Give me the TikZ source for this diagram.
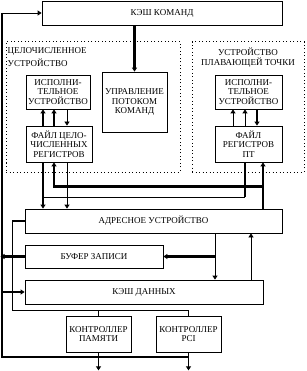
\documentclass[tikz,border=0pt]{standalone}
\usepackage{fontspec}
\setmainfont{Liberation Serif}
\usetikzlibrary{arrows.meta, positioning, calc}
\tikzset{
    box/.style = {draw, line width=0.8pt, rectangle, inner sep=1pt, text centered, align=center, font=\fontsize{9}{9.5}\selectfont},
    frame/.style = {draw, line width=1pt, dash pattern=on 1pt off 2.5pt, rectangle, inner sep=0pt},
    framelabel/.style = {inner sep=0pt, font=\fontsize{9}{10}\selectfont},
    wire/.style = {line width=0.8pt},
    bus/.style = {line width=2.4pt},
    midbus/.style = {line width=1.6pt},
    arrow/.style = {-{Triangle[length=4pt, width=5pt]}}
}

\begin{document}
\begin{tikzpicture}[x=1pt, y=-1pt]
    \useasboundingbox (0,0) rectangle (306,371);
    % dotted frames of the two units
    \node[frame, minimum width=174pt, minimum height=130pt] (intframe) at (93,107) {};
    \node[frame, minimum width=112pt, minimum height=130pt] (fpframe) at (248,107) {};
    \node[framelabel, align=left, anchor=north west, below right=6pt and 2pt of intframe.north west, font=\fontsize{9}{13}\selectfont] (intlbl) {ЦЕЛОЧИСЛЕННОЕ\\УСТРОЙСТВО};
    \node[framelabel, align=center, anchor=north, below=6pt of fpframe.north] (fplbl) {УСТРОЙСТВО\\ПЛАВАЮЩЕЙ ТОЧКИ};

    % blocks
    \node[box, minimum width=240pt, minimum height=24pt] (icache) at (162,13) {КЭШ КОМАНД};
    \node[box, minimum width=64pt, minimum height=34pt] (intexec) at (58,92) {ИСПОЛНИ-\\ТЕЛЬНОЕ\\УСТРОЙСТВО};
    \node[box, minimum width=65pt, minimum height=60pt] (flow) at (134.5,102) {УПРАВЛЕНИЕ\\ПОТОКОМ\\КОМАНД};
    \node[box, minimum width=67pt, minimum height=34pt] (fpexec) at (248.5,92) {ИСПОЛНИ-\\ТЕЛЬНОЕ\\УСТРОЙСТВО};
    \node[box, minimum width=66pt, minimum height=36pt] (intreg) at (59,144) {ФАЙЛ ЦЕЛО-\\ЧИСЛЕННЫХ\\РЕГИСТРОВ};
    \node[box, minimum width=67pt, minimum height=36pt] (fpreg) at (248.5,144) {ФАЙЛ\\РЕГИСТРОВ\\ПТ};
    \node[box, minimum width=257pt, minimum height=24pt] (agu) at (153.5,221) {АДРЕСНОЕ УСТРОЙСТВО};
    \node[box, minimum width=138pt, minimum height=23pt] (wbuf) at (94,256.5) {БУФЕР ЗАПИСИ};
    \node[box, minimum width=238pt, minimum height=24pt] (dcache) at (144,292) {КЭШ ДАННЫХ};
    \node[box, minimum width=65pt, minimum height=36pt] (memctl) at (98.5,334) {КОНТРОЛЛЕР\\ПАМЯТИ};
    \node[box, minimum width=65pt, minimum height=36pt] (pcictl) at (188.5,334) {КОНТРОЛЛЕР\\PCI};

    % points on the bus and on the blocks
    \coordinate (bustop) at (2,13);
    \coordinate (busbot) at (2,357);
    \coordinate (intout) at ($(intreg.south)+(-16,0)$);
    \coordinate (intin) at ($(intreg.south)+(-5,0)$);
    \coordinate (fpout) at ($(fpreg.south)+(-3.5,0)$);
    \coordinate (fpin) at ($(fpreg.south)+(14.5,0)$);
    \coordinate (aguout) at ($(agu.south)+(61.5,0)$);
    \coordinate (aguin) at ($(agu.south)+(97.5,0)$);
    \coordinate (ctlbus) at ($(agu.west)+(-12,0)$);

    % system bus on the left
    \draw[bus] (bustop) -- (busbot) -- (pcictl.south |- busbot);
    \draw[wire, arrow] (bustop) -- (icache.west);
    \draw[bus, arrow] (icache.south -| flow.north) -- (flow.north);

    % integer unit
    \draw[bus, arrow] ([xshift=-16pt]intreg.north) -- ([xshift=-16pt]intreg.north |- intexec.south);
    \draw[bus, arrow] ([xshift=-5pt]intreg.north) -- ([xshift=-5pt]intreg.north |- intexec.south);
    \draw[wire, arrow] ([xshift=8pt]intreg.north |- intexec.south) -- ([xshift=8pt]intreg.north);

    % floating point unit
    \draw[wire, arrow] ([xshift=-15.5pt]fpreg.north) -- ([xshift=-15.5pt]fpreg.north |- fpexec.south);
    \draw[wire, arrow] ([xshift=-3.5pt]fpreg.north) -- ([xshift=-3.5pt]fpreg.north |- fpexec.south);
    \draw[bus, arrow] ([xshift=8.5pt]fpreg.north |- fpexec.south) -- ([xshift=8.5pt]fpreg.north);

    % register files <-> address unit
    \draw[bus] (fpout) -- ++(0,35) coordinate (fpjoin);
    \draw[wire] (fpjoin) -- (fpjoin -| intout);
    \draw[bus, arrow] (intout) -- (intout |- agu.north);
    \draw[wire, arrow] ([xshift=8pt]intreg.south) -- ([xshift=8pt]intreg.south |- agu.north);
    \draw[bus, arrow] (fpin |- agu.north) -- (fpin);
    \draw[bus, arrow] ($(fpin)+(0,24)$) -| (intin);

    % address unit, write buffer, data cache
    \draw[wire, arrow] (aguout) -- (aguout |- dcache.north);
    \draw[bus, arrow] (aguout |- wbuf.east) -- (wbuf.east);
    \draw[wire, arrow] (aguin |- dcache.north) -- (aguin);
    \draw[bus, arrow, shorten >=-1.5pt] (wbuf.west) -- (wbuf.west -| bustop);
    \draw[bus, arrow] (dcache.west -| bustop) -- (dcache.west);

    % controllers
    \draw[midbus] (agu.west) -- (ctlbus) |- ($(pcictl.north)+(0,-5)$) -- (pcictl.north);
    \draw[wire] (memctl.north) -- ++(0,-5);
    \draw[wire, arrow] (memctl.south) -- ++(0,18);
    \draw[wire, arrow] (pcictl.south) -- ++(0,18);
\end{tikzpicture}
\end{document}
